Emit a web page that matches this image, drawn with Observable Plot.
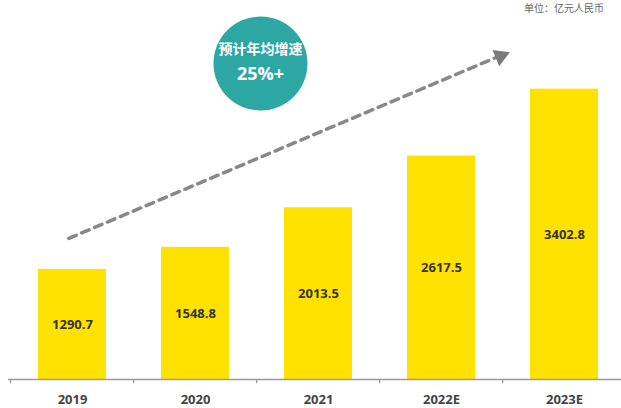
<!DOCTYPE html>
<html>
<head>
<meta charset="utf-8">
<script src="https://cdn.jsdelivr.net/npm/d3@7"></script>
<script src="https://cdn.jsdelivr.net/npm/@observablehq/plot@0.6"></script>
<style>
  html, body { margin: 0; padding: 0; background: #fff; overflow: hidden; }
  #wrap { position: relative; width: 621px; height: 408px; overflow: hidden; }
  #unit { position: absolute; left: 524px; top: 2px; font: 10px/12px "Noto Sans CJK SC", sans-serif; color: #666; white-space: nowrap; }
</style>
</head>
<body>
<div id="wrap"><div id="unit">单位：亿元人民币</div></div>
<script>
const years = ["2019", "2020", "2021", "2022E", "2023E"];
const values = [1290.7, 1548.8, 2013.5, 2617.5, 3402.8];
const valueLabels = ["1290.7", "1548.8", "2013.5", "2617.5", "3402.8"];

// annotation: trend arrow and growth badge (data units)
const arrowFrom = {x: "2019", y: 1672};
const arrowTo = {x: "2023E", y: 4114};
const arrowTip = {x: "2023E", y: 3790};
const badge = {x: "2020", y: 3704};
const badgeTitle = "预计年均增速";
const badgeValue = "25%+";

const data = years.map((y, i) => ({year: y, value: values[i], label: valueLabels[i]}));

const step = (627 - 8) / years.length;
const FONT = "'Open Sans', 'Noto Sans CJK SC', sans-serif";

const chart = Plot.plot({
  width: 621,
  height: 408,
  marginTop: 0,
  marginBottom: 29,
  marginLeft: 8,
  marginRight: 0,
  style: {fontFamily: FONT, background: "#fff"},
  x: {domain: years, range: [8, 627], paddingInner: 0.45, paddingOuter: 0.225, axis: null},
  y: {domain: [0, 4442], axis: null},
  marks: [
    Plot.barY(data, {x: "year", y: "value", fill: "#FFE200"}),
    Plot.ruleY([0], {stroke: "#9a9a9a", strokeWidth: 1.3}),
    Plot.ruleX(years, {x: d => d, dx: -step / 2, y1: 0, y2: -50, stroke: "#9a9a9a", strokeWidth: 1.3}),
    Plot.axisX({tickSize: 0, tickPadding: 15, fontSize: 13, fontWeight: "bold", fill: "#444", label: null}),
    Plot.text(data, {x: "year", y: d => d.value / 2, text: "label", fontSize: 13, fontWeight: "bold", fill: "#333"}),
    Plot.arrow([0], {
      x1: () => arrowFrom.x, y1: () => arrowFrom.y,
      x2: () => arrowTo.x, y2: () => arrowTo.y,
      insetStart: -4, insetEnd: 68, headLength: 0, stroke: "#888", strokeWidth: 3.5,
      strokeDasharray: "8,6", strokeLinecap: "round"
    }),
    Plot.dot([arrowTip], {x: "x", y: "y", dx: -64, symbol: "triangle", r: 6.5, fill: "#7a7a7a", stroke: "none", rotate: 67}),
    Plot.dot([badge], {x: "x", y: "y", dx: 65, r: 47, fill: "#2CA7A4"}),
    Plot.text([badge], {x: "x", y: "y", dx: 65, dy: -14, text: () => badgeTitle, fill: "#fff", fontSize: 14, fontWeight: "bold", fontFamily: "'Noto Sans CJK SC', sans-serif"}),
    Plot.text([badge], {x: "x", y: "y", dx: 65, dy: 11, text: () => badgeValue, fill: "#fff", fontSize: 18, fontWeight: "bold"})
  ]
});
document.getElementById("wrap").prepend(chart);
</script>
</body>
</html>
